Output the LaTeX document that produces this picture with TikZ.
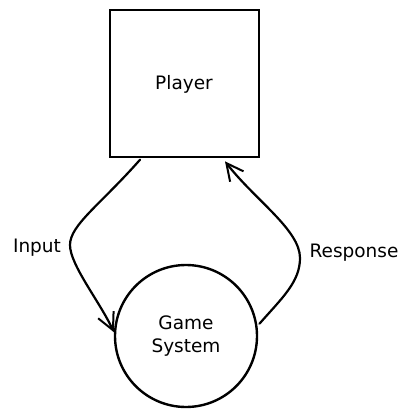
\documentclass[tikz,border=0pt]{standalone}
\usepackage{fontspec}
\setmainfont{DejaVu Sans}
\usetikzlibrary{arrows.meta}
\begin{document}
\begin{tikzpicture}[x=1pt,y=-1pt,
  shapeline/.style={draw=black,line width=2.4pt,inner sep=0pt},
  conn/.style={draw=black,line width=2.2pt,line cap=round,-{Straight Barb[length=17pt,width=17pt,line width=2pt]}},
  lbl/.style={font=\fontsize{18.5}{23}\selectfont,inner sep=0pt}]
\useasboundingbox (0,0) rectangle (409,417);
\fill[white] (0,0) rectangle (409,417);
\node[shapeline, minimum width=149pt, minimum height=147pt] (player) at (184.5,83.5) {};
\node[lbl, anchor=base] (playerlbl) at (184,90) {Player};
\node[shapeline, circle, minimum size=142pt] (game) at (186,336) {};
\node[lbl, align=center] (gamelbl) at (186,336) {Game\\System};
\node[lbl, anchor=base] (inputlbl) at (37,252) {Input};
\node[lbl, anchor=base] (resplbl) at (354,257) {Response};
\coordinate (inmid) at (70,245);
\coordinate (resmid) at (300,258);
\draw[conn, shorten <=2pt] (player.240) .. controls (100,205) and (70,225) .. (inmid)
  .. controls (70,265) and (100,302) .. (game.177);
\draw[conn, shorten <=3pt, shorten >=4pt] (game.8) .. controls (282,298) and (300,282) .. (resmid)
  .. controls (300,230) and (255,200) .. (player.-63);
\end{tikzpicture}
\end{document}
